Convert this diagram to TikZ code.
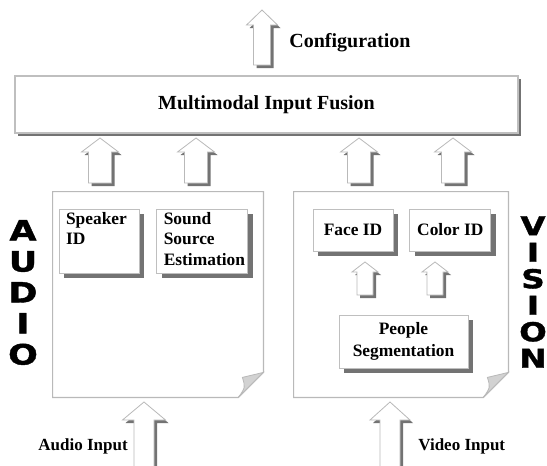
\documentclass[tikz,border=0pt]{standalone}
\usepackage{fontspec}
\setmainfont{Liberation Serif}
\newfontfamily\modalfont[FakeStretch=1.25, FakeBold=1.5]{DejaVu Sans}
\usetikzlibrary{shadows, positioning}
\hyphenpenalty=10000

\begin{document}
\begin{tikzpicture}[x=0.5pt, y=-0.5pt,
      every node/.style={font=\bfseries},
      boxshadow/.style={drop shadow={shadow xshift=#1, shadow yshift=-#1, fill=black!55, opacity=1}},
      fusionbox/.style={draw=gray!50, line width=0.6pt, fill=white, minimum width=251.5pt,
                        minimum height=28.5pt, font=\bfseries\fontsize{10}{12}\selectfont, boxshadow=1.6pt},
      module/.style={draw=gray!50, fill=white, inner xsep=3.5pt, inner ysep=1.5pt,
                     font=\bfseries\fontsize{8.7}{10.3}\selectfont, boxshadow=2.5pt},
      panel/.style={inner sep=0pt, minimum height=102.5pt},
      outline/.style={draw=gray!55, line width=0.6pt, fill=white},
      fold/.style={fill=gray!35, draw=gray!55, line width=0.4pt},
      modal/.style={font=\modalfont\bfseries\fontsize{14}{15.5}\selectfont, align=center, inner sep=0pt},
      lbl/.style={font=\bfseries\fontsize{8.5}{10}\selectfont, inner sep=0pt},
      arrshaft/.store in=\arrshaft, arrhead/.store in=\arrhead, arrneck/.store in=\arrneck,
      blockarr/.style={draw=gray!55, line width=0.4pt, fill=white, boxshadow=1.5pt,
        to path={([xshift=-\arrshaft]\tikztostart) -- ([xshift=-\arrshaft, yshift=-\arrneck]\tikztotarget)
          -- ([xshift=-\arrhead, yshift=-\arrneck]\tikztotarget) -- (\tikztotarget)
          -- ([xshift=\arrhead, yshift=-\arrneck]\tikztotarget) -- ([xshift=\arrshaft, yshift=-\arrneck]\tikztotarget)
          -- ([xshift=\arrshaft]\tikztostart) -- cycle}}
    ]
    \useasboundingbox (0,0) rectangle (547,466);

    % fusion stage and its output
    \node[fusionbox] (fusion) at (266.5,104.5) {Multimodal Input Fusion};
    \coordinate (cfgin) at (262,65);
    \coordinate (cfgout) at (262,10);
    \draw[blockarr, arrshaft=4.25pt, arrhead=7.75pt, arrneck=7.5pt] (cfgin) to (cfgout);
    \node[lbl, font=\bfseries\fontsize{10}{12}\selectfont, anchor=base west] (cfglbl) at (289,47) {Configuration};

    % the two sensor panels with a turned-down corner
    \node[panel, minimum width=105pt] (audio) at (158,294.5) {};
    \node[panel, minimum width=107pt] (vision) at (401,294.5) {};
    \foreach \p in {audio,vision} {
      \draw[outline] (\p.north west) -- (\p.north east) -- ([yshift=12.5pt]\p.south east)
          -- ([xshift=-12.5pt]\p.south east) -- (\p.south west) -- cycle;
      \draw[fold] ([xshift=-12.5pt]\p.south east) .. controls ([xshift=-9pt, yshift=5pt]\p.south east)
          .. ([xshift=-10.5pt, yshift=10pt]\p.south east) -- ([yshift=12.5pt]\p.south east) -- cycle;
    }

    % audio modules
    \node[module] (spk) at (99,241) {\parbox[t][29pt][t]{33pt}{Speaker\\ID}};
    \node[module, right=8.5pt of spk] (ssl) {\parbox[t][29pt][t]{38.5pt}{Sound\\Source\\Estimation}};

    % vision modules
    \node[module, minimum width=40pt, minimum height=21pt] (face) at (353,230) {Face ID};
    \node[module, minimum width=40.5pt, minimum height=21pt, right=8pt of face] (color) {Color ID};
    \node[module, minimum width=64.5pt, minimum height=26.5pt, align=center,
          font=\bfseries\fontsize{8.7}{11}\selectfont] (seg) at (403.5,341.5) {People\\Segmentation};
    \foreach \cx [count=\i] in {365,435} {
      \coordinate (segout\i) at (\cx,295);
      \coordinate (segin\i) at (\cx,262);
      \draw[blockarr, arrshaft=4pt, arrhead=6.5pt, arrneck=5pt] (segout\i) to (segin\i);
    }

    % module outputs into the fusion stage
    \foreach \cx [count=\i] in {100,196,359,453} {
      \coordinate (fin\i) at (\cx,183);
      \coordinate (fout\i) at (\cx,138);
      \draw[blockarr, arrshaft=5.75pt, arrhead=9.25pt, arrneck=7pt] (fin\i) to (fout\i);
    }

    % raw inputs
    \coordinate (audsrc) at (144,476);
    \coordinate (audtip) at (144,402);
    \coordinate (vidsrc) at (390,476);
    \coordinate (vidtip) at (390,402);
    \draw[blockarr, arrshaft=5pt, arrhead=10.75pt, arrneck=9pt] (audsrc) to (audtip);
    \draw[blockarr, arrshaft=5pt, arrhead=10pt, arrneck=9pt] (vidsrc) to (vidtip);
    \node[lbl, anchor=base west] (audlbl) at (38,450) {Audio Input};
    \node[lbl, anchor=base west] (vidlbl) at (418,450) {Video Input};

    % modality titles
    \node[modal] (audtitle) at (23,292.5) {A\\U\\D\\I\\O};
    \node[modal, font=\modalfont\bfseries\fontsize{13}{13.25}\selectfont] (vistitle) at (533,292) {V\\I\\S\\I\\O\\N};
  \end{tikzpicture}
\end{document}
